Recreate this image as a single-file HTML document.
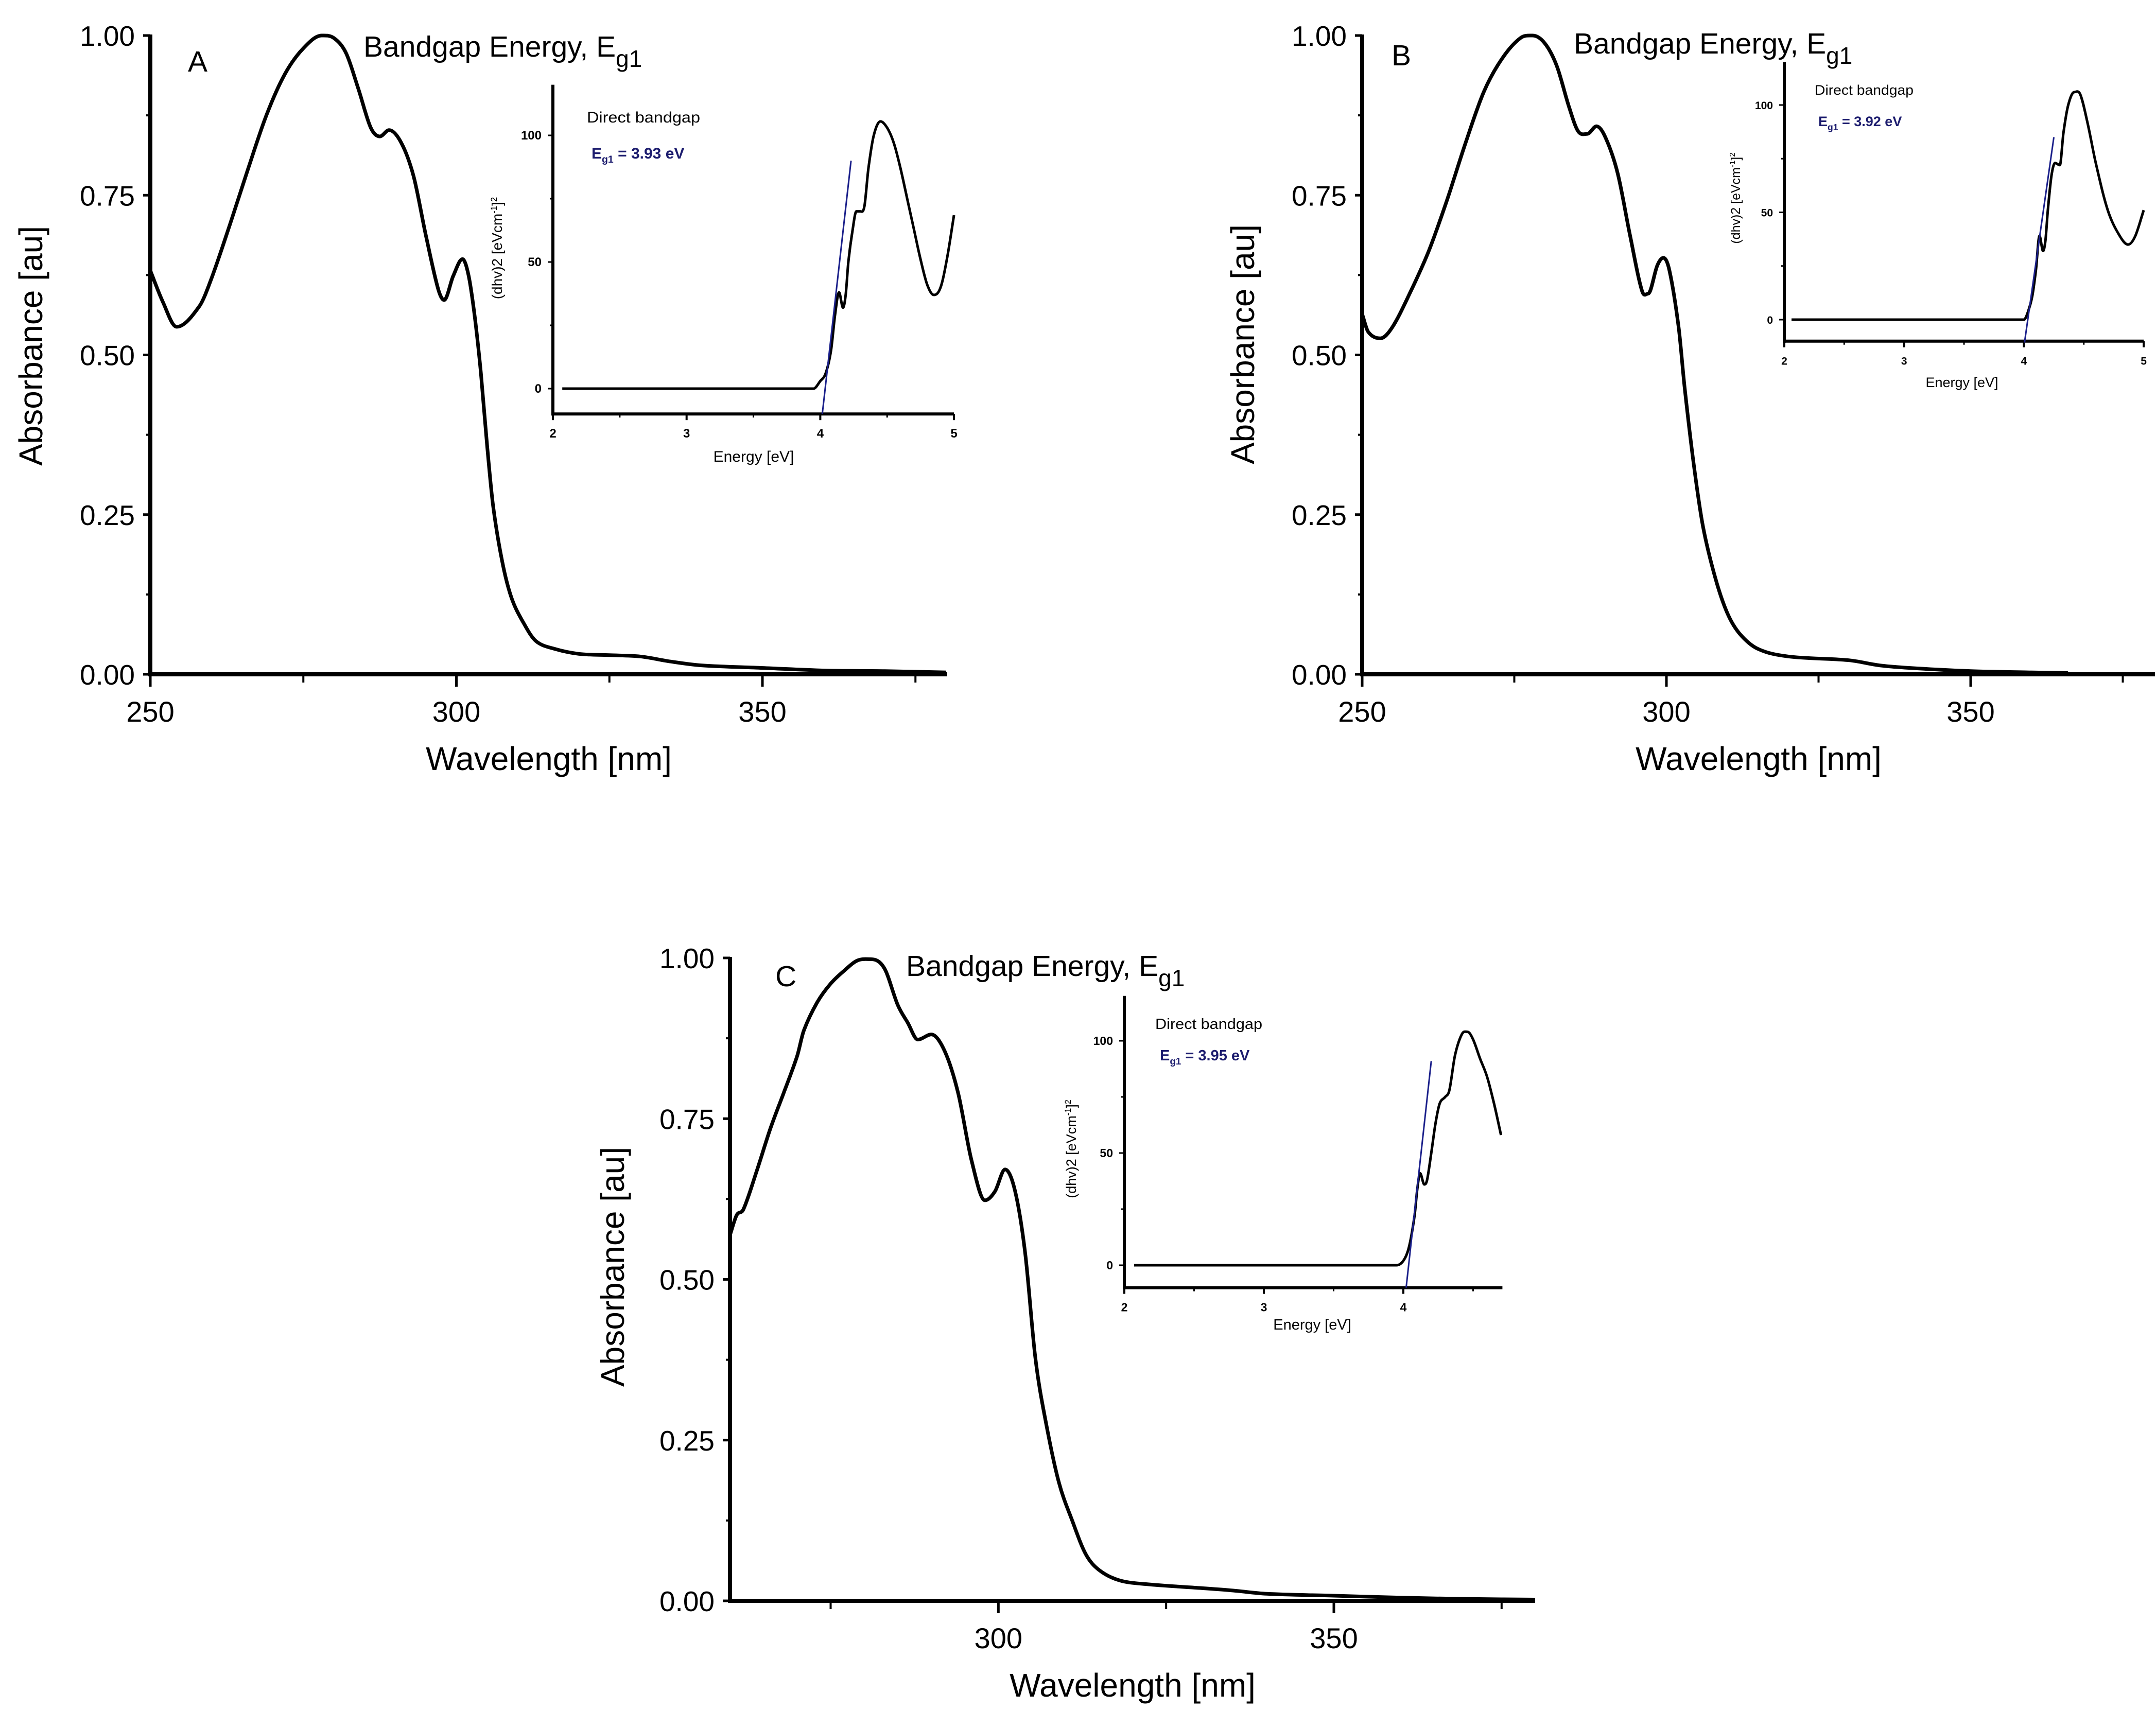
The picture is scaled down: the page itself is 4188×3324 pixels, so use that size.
<!DOCTYPE html>
<html><head><meta charset="utf-8"><style>
html,body{margin:0;padding:0;background:#fff}
svg{display:block;font-family:"Liberation Sans",Arial,sans-serif}
</style></head><body>
<svg id="fig" width="4188" height="3324" viewBox="0 0 4188 3324" xmlns="http://www.w3.org/2000/svg">
<rect width="4188" height="3324" fill="#fff"/>
</svg>
<script>
// ---- Main spectra data (wavelength nm, absorbance au) ----
const wlA=[250,252,254.3,258,260,263,266,269,272,275,278,280,282,284,286,287.5,289,291,293,295,297,298,299.5,301,302,303,304,305,306,307.5,309,311,313,316,320,325,330,335,340,350,360,370,380];
const absA=[0.632,0.584,0.544,0.576,0.62,0.704,0.792,0.876,0.94,0.98,1.0,0.996,0.972,0.916,0.856,0.842,0.852,0.832,0.78,0.688,0.604,0.586,0.624,0.65,0.624,0.56,0.472,0.36,0.264,0.176,0.12,0.08,0.052,0.04,0.032,0.03,0.028,0.02,0.014,0.01,0.006,0.005,0.003];
const wlB=[250,251,253,255,258,261,264,267,270,273,276,278,280,282,284,285.5,287,288.5,290,292,294,296,297,298.5,299.5,300.5,302,303,304.5,306,308,310,312,315,320,330,335,340,350,360,366];
const absB=[0.564,0.536,0.526,0.544,0.6,0.664,0.744,0.832,0.912,0.964,0.996,1.0,0.988,0.952,0.888,0.85,0.846,0.858,0.84,0.784,0.688,0.6,0.596,0.64,0.652,0.632,0.544,0.448,0.328,0.232,0.152,0.096,0.064,0.04,0.028,0.022,0.014,0.01,0.005,0.003,0.002];
const wlC=[260,261,262,264,266,268,270,271,273,275,277,279,281,283,285,286.5,288,290,292,294,296,298,299.5,301,302.5,304,305.5,307,309,311,313,315,318,322,330,335,340,350,360,370,380];
const absC=[0.569,0.6,0.609,0.669,0.734,0.79,0.847,0.887,0.931,0.96,0.98,0.996,0.998,0.984,0.927,0.899,0.873,0.881,0.855,0.79,0.685,0.623,0.637,0.671,0.637,0.54,0.379,0.282,0.185,0.125,0.073,0.048,0.032,0.026,0.02,0.016,0.011,0.008,0.005,0.003,0.002];
// ---- Inset data (energy eV, (αhν)^2) ----
const eA=[2.07,3.95,4.0,4.04,4.08,4.11,4.14,4.17,4.19,4.21,4.24,4.27,4.3,4.33,4.36,4.4,4.45,4.5,4.55,4.6,4.65,4.7,4.75,4.8,4.85,4.9,4.95,5.0];
const vA=[0,0,3,6,15,29,38,32,37,50,62,70,70,72,87,100,105.5,103,97,87,75,63,51,41,37,40,52,68.5];
const eB=[2.06,4.0,4.03,4.07,4.1,4.13,4.16,4.18,4.2,4.23,4.26,4.3,4.33,4.37,4.42,4.47,4.53,4.6,4.7,4.8,4.87,4.93,5.0];
const vB=[0,0,3,11,23,39,32,37,51,67,73,72,87,100,106,105,92,73,51,39,35,39,51];
const eC=[2.07,3.95,4.0,4.04,4.08,4.1,4.12,4.15,4.17,4.2,4.23,4.26,4.3,4.33,4.37,4.42,4.46,4.5,4.55,4.6,4.65,4.7];
const vC=[0,0,2,8,22,34,41,36,38,50,63,72,75,78,93.5,103,104,100.6,92,84,72,58];
// linear fits (energy endpoints, value endpoints)
const fitEA=[4.015,4.23], fitVA=[-10,90];
const fitEB=[4.005,4.25], fitVB=[-10.7,85];
const fitEC=[4.02,4.2], fitVC=[-10,91];
const egLabels=["3.93","3.92","3.95"];
const yTicksMain=[0,0.25,0.5,0.75,1.0];
const yTickLabelsMain=["0.00","0.25","0.50","0.75","1.00"];
const insetYTicks=[0,50,100];

const NS="http://www.w3.org/2000/svg";
const svg=document.getElementById('fig');
function mk(tag,attrs,parent){const e=document.createElementNS(NS,tag);for(const k in attrs)e.setAttribute(k,attrs[k]);(parent||svg).appendChild(e);return e;}
function txt(s,attrs,parent){const e=mk('text',attrs,parent);e.textContent=s;return e;}
function smooth(pts){
  const n=pts.length, m=[];
  for(let i=0;i<n;i++){
    const a=pts[Math.max(0,i-1)], b=pts[Math.min(n-1,i+1)];
    let s=(b[1]-a[1])/(b[0]-a[0]);
    // flatten slope at local extrema / flat neighbors
    if(i>0&&i<n-1){const d1=pts[i][1]-pts[i-1][1], d2=pts[i+1][1]-pts[i][1]; if(d1*d2<=0) s=0;}
    m.push(s);
  }
  let d='M'+pts[0][0].toFixed(1)+','+pts[0][1].toFixed(1);
  for(let i=0;i<n-1;i++){
    const p1=pts[i],p2=pts[i+1],dx=(p2[0]-p1[0])/3;
    d+='C'+(p1[0]+dx).toFixed(1)+','+(p1[1]+m[i]*dx).toFixed(1)+' '+(p2[0]-dx).toFixed(1)+','+(p2[1]-m[i+1]*dx).toFixed(1)+' '+p2[0].toFixed(1)+','+p2[1].toFixed(1);
  }
  return d;
}

function mainPanel(cfg){
  const g=mk('g',{});
  
  
  const sx=v=>cfg.x0+(v-cfg.xmin)*(cfg.x1-cfg.x0)/(cfg.xmax-cfg.xmin);
  const sy=v=>cfg.y0+(v-0)*(cfg.y1-cfg.y0)/1;
  const ya=mk('line',{x1:cfg.x0,y1:sy(0)+4,x2:cfg.x0,y2:sy(1)-2,stroke:'#000','stroke-width':8},g);
  
  
  const xa=mk('line',{x1:cfg.x0-4,y1:sy(0),x2:cfg.xend,y2:sy(0),stroke:'#000','stroke-width':8},g);
  
  
  yTicksMain.forEach((v,i)=>{
    mk('line',{x1:cfg.x0-14,y1:sy(v),x2:cfg.x0,y2:sy(v),stroke:'#000','stroke-width':5},g);
    const t=txt(yTickLabelsMain[i],{x:cfg.x0-30,y:sy(v)+20,'font-size':55,'text-anchor':'end'},g);
    
    
  });
  [0.125,0.375,0.625,0.875].forEach(v=>mk('line',{x1:cfg.x0-8,y1:sy(v),x2:cfg.x0,y2:sy(v),stroke:'#000','stroke-width':4},g));
  cfg.xMajor.forEach(v=>{
    mk('line',{x1:sx(v),y1:sy(0),x2:sx(v),y2:sy(0)+24,stroke:'#000','stroke-width':5},g);
    const t=txt(String(v),{x:sx(v),y:sy(0)+92,'font-size':56,'text-anchor':'middle'},g);
    
    
  });
  cfg.xMinor.forEach(v=>mk('line',{x1:sx(v),y1:sy(0),x2:sx(v),y2:sy(0)+16,stroke:'#000','stroke-width':4},g));
  const pts=cfg.wl.map((w,i)=>[sx(w),sy(cfg.ab[i])]);
  const p=mk('path',{d:smooth(pts),fill:'none',stroke:'#000','stroke-width':7,'stroke-linejoin':'round'},g);
  
  
  const xt=txt('Wavelength [nm]',{x:(cfg.x0+cfg.xend)/2,y:sy(0)+186,'font-size':64,'text-anchor':'middle'},g);
  
  
  const yt=txt('Absorbance [au]',{x:0,y:0,'font-size':64,'text-anchor':'middle',transform:`translate(${cfg.ylabX},${cfg.ylabY}) rotate(-90)`},g);
  
  
  const tt=mk('text',{x:cfg.titleX,y:cfg.titleY,'font-size':57},g);
  
  
  tt.textContent='Bandgap Energy, E';
  const sub=mk('tspan',{dy:20,'font-size':46},tt);sub.textContent='g1';
  const lt=txt(cfg.id,{x:cfg.letX,y:cfg.letY,'font-size':57},g);
  
  
}

function inset(cfg){
  const g=mk('g',{});
  
  
  const sx=e=>cfg.x2+(e-2)*cfg.pe;
  const sy=v=>cfg.v0+(v)*(cfg.v100-cfg.v0)/100;
  const fs=cfg.fs;
  mk('line',{x1:sx(2),y1:sy(-10)+3,x2:sx(2),y2:sy(120),stroke:'#000','stroke-width':6},g);
  mk('line',{x1:sx(2)-3,y1:sy(-10),x2:sx(cfg.emax),y2:sy(-10),stroke:'#000','stroke-width':6},g);
  insetYTicks.forEach(v=>{
    mk('line',{x1:sx(2)-10,y1:sy(v),x2:sx(2),y2:sy(v),stroke:'#000','stroke-width':3},g);
    const t=txt(String(v),{x:sx(2)-22,y:sy(v)+8,'font-size':fs-6,'font-weight':'bold','text-anchor':'end'},g);
    
    
  });
  [25,75].forEach(v=>mk('line',{x1:sx(2)-6,y1:sy(v),x2:sx(2),y2:sy(v),stroke:'#000','stroke-width':3},g));
  cfg.eticks.forEach(e=>{
    mk('line',{x1:sx(e),y1:sy(-10),x2:sx(e),y2:sy(-10)+12,stroke:'#000','stroke-width':4},g);
    const t=txt(String(e),{x:sx(e),y:sy(-10)+46,'font-size':fs-6,'font-weight':'bold','text-anchor':'middle'},g);
    
    
  });
  cfg.eminor.forEach(e=>mk('line',{x1:sx(e),y1:sy(-10),x2:sx(e),y2:sy(-10)+7,stroke:'#000','stroke-width':3},g));
  const pts=cfg.e.map((e,i)=>[sx(e),sy(cfg.v[i])]);
  const p=mk('path',{d:smooth(pts),fill:'none',stroke:'#000','stroke-width':5,'stroke-linejoin':'round'},g);
  
  
  const f=mk('line',{x1:sx(cfg.fe[0]),y1:sy(cfg.fv[0]),x2:sx(cfg.fe[1]),y2:sy(cfg.fv[1]),stroke:'#1a1f8a','stroke-width':3},g);
  
  
  const a=txt('Direct bandgap',{x:cfg.dbX,y:cfg.dbY,'font-size':fs,'textLength':cfg.dbW,'lengthAdjust':'spacingAndGlyphs'},g);
  
  
  const eg=mk('text',{x:cfg.egX,y:cfg.egY,'font-size':fs,'font-weight':'bold',fill:'#1c1c6e'},g);
  
  
  eg.textContent='E';
  const s=mk('tspan',{dy:8,'font-size':fs*0.65},eg);s.textContent='g1';
  const r=mk('tspan',{dy:-8},eg);r.textContent=' = '+cfg.eg+' eV';
  const xt=txt('Energy [eV]',{x:cfg.enX,y:cfg.enY,'font-size':fs,'text-anchor':'middle'},g);
  
  
  const yt=mk('text',{'font-size':fs-2,'text-anchor':'middle',transform:`translate(${cfg.ylX},${cfg.ylY}) rotate(-90)`},g);
  
  
  yt.textContent='(dhv)2 [eVcm';
  const s1=mk('tspan',{dy:-10,'font-size':(fs-2)*0.6},yt);s1.textContent='-1';
  const s2=mk('tspan',{dy:10},yt);s2.textContent=']';
  const s3=mk('tspan',{dy:-10,'font-size':(fs-2)*0.6},yt);s3.textContent='2';
}

mainPanel({id:'A',x0:292,x1:1481,xmin:250,xmax:350,xend:1840,y0:1310,y1:69,wl:wlA,ab:absA,xMajor:[250,300,350],xMinor:[275,325,375],ylabX:82,ylabY:672,titleX:706,titleY:110,letX:365,letY:139});
mainPanel({id:'B',x0:2646,x1:3828,xmin:250,xmax:350,xend:4186,y0:1310,y1:69,wl:wlB,ab:absB,xMajor:[250,300,350],xMinor:[275,325,375],ylabX:2436,ylabY:669,titleX:3057,titleY:104,letX:2703,letY:127});
mainPanel({id:'C',x0:1418,x1:2591,xmin:260,xmax:350,xend:2982,y0:3110,y1:1861,wl:wlC,ab:absC,xMajor:[300,350],xMinor:[275,325,375],ylabX:1212,ylabY:2461,titleX:1760,titleY:1896,letX:1506,letY:1916});

inset({id:'A',x2:1074,pe:259.7,v0:755,v100:263,emax:5,eticks:[2,3,4,5],eminor:[2.5,3.5,4.5],e:eA,v:vA,fe:fitEA,fv:fitVA,fs:30,eg:egLabels[0],dbX:1140,dbY:238,dbW:220,egX:1149,egY:308,enX:1464,enY:897,ylX:975,ylY:482});
inset({id:'B',x2:3466,pe:232.7,v0:621,v100:204,emax:5,eticks:[2,3,4,5],eminor:[2.5,3.5,4.5],e:eB,v:vB,fs:27,fe:fitEB,fv:fitVB,eg:egLabels[1],dbX:3525,dbY:184,dbW:192,egX:3532,egY:245,enX:3811,enY:752,ylX:3380,ylY:385});
inset({id:'C',x2:2184,pe:271,v0:2458,v100:2022,emax:4.71,eticks:[2,3,4],eminor:[2.5,3.5,4.5],e:eC,v:vC,fs:29,fe:fitEC,fv:fitVC,eg:egLabels[2],dbX:2244,dbY:1999,dbW:208,egX:2253,egY:2060,enX:2549,enY:2583,ylX:2090,ylY:2232});
</script>
</body></html>
